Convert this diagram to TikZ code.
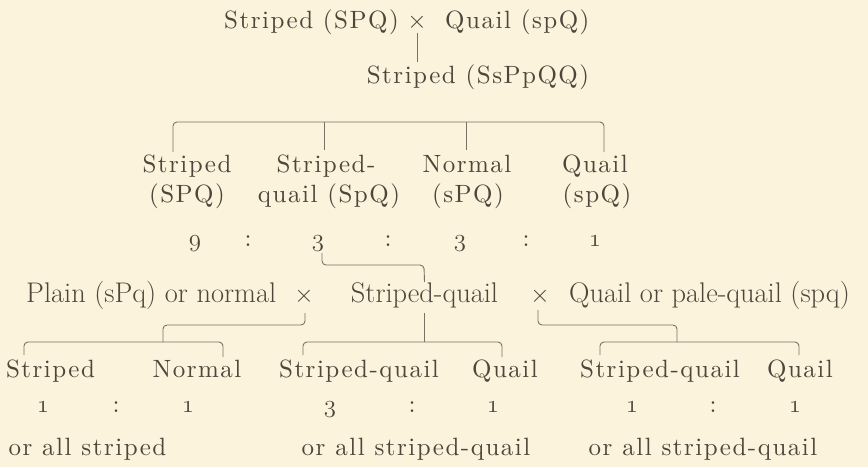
\documentclass[tikz,border=0pt]{standalone}
\usepackage{fontspec}
\setmainfont{lmroman10-regular.otf}
\newfontfamily\tallfont{lmroman17-regular.otf}
\definecolor{bg}{HTML}{FBF3DB}
\definecolor{ink}{HTML}{4E463B}
\definecolor{rulec}{HTML}{7A7164}
\newcommand\osn[1]{{\usefont{OML}{cmm}{m}{it}#1}}
\begin{document}
\begin{tikzpicture}[x=1pt,y=-1pt,
  lbl/.style={text=ink,inner sep=0pt,anchor=base,font=\fontsize{25}{30}\selectfont\addfontfeatures{LetterSpace=6}},
  wide/.style={text=ink,inner sep=0pt,anchor=base,font=\tallfont\fontsize{28.4}{32}\selectfont},
  link/.style={draw=rulec,line width=0.9pt,rounded corners=4pt}]
\fill[bg] (0,0) rectangle (868,467);
\useasboundingbox (0,0) rectangle (868,467);
% row 1
\node[lbl,anchor=base east] (p1) at (399,28) {Striped (SPQ)};
\node[lbl] (x1) at (417,28) {$\times$};
\node[lbl,anchor=base west] (p2) at (445,28) {Quail (spQ)};
\node[lbl] (f1) at (478,83) {Striped (SsPpQQ)};
\draw[link] ([yshift=-3pt]x1.south) -- ([yshift=2pt]x1.south |- f1.north);
% bracket 1
\coordinate (b1l) at (173,152);
\coordinate (b1r) at (604,152);
\draw[link] (b1l) -- (173,122) -- (604,122) -- (b1r);
\draw[link] (324,122) -- (324,150);
\draw[link] (466,122) -- (466,150);
% row 3
\node[lbl] (a1) at (187,172) {Striped};
\node[lbl] (a1b) at (187,202) {(SPQ)};
\node[lbl] (a2) at (326,172) {Striped-};
\node[lbl] (a2b) at (329,202) {quail (SpQ)};
\node[lbl] (a3) at (467,172) {Normal};
\node[lbl] (a3b) at (468,202) {(sPQ)};
\node[lbl] (a4) at (595,172) {Quail};
\node[lbl] (a4b) at (597,202) {(spQ)};
% row 4
\node[lbl] (r1) at (195,246) {\osn{9}};
\node[lbl] (r2) at (248,246) {:};
\node[lbl] (r3) at (318,246) {\osn{3}};
\node[lbl] (r4) at (388,246) {:};
\node[lbl] (r5) at (460,246) {\osn{3}};
\node[lbl] (r6) at (526,246) {:};
\node[lbl] (r7) at (595,246) {\osn{1}};
% row 5
\node[wide,anchor=base west] (c1) at (26,302) {Plain (sPq) or normal};
\node[wide] (x2) at (304,302) {$\times$};
\node[wide] (c2) at (424.5,302) {Striped-quail};
\node[wide] (x3) at (540,302) {$\times$};
\node[wide,anchor=base west] (c3) at (569,302) {Quail or pale-quail (spq)};
\draw[link] (322,253) -- (322,265) -- (424,265) -- (c2.north);
% lower connectors
\draw[link] (305,313) -- (305,325) -- (163,325) -- (163,342);
\draw[link] (24,355) -- (24,342) -- (223,342) -- (223,357);
\draw[link] (424,313) -- (424,342);
\draw[link] (303,355) -- (303,342) -- (502,342) -- (502,357);
\draw[link] (538,310) -- (538,325) -- (677,325) -- (677,342);
\draw[link] (600,355) -- (600,342) -- (799,342) -- (799,355);
% row 6
\node[lbl] (d1) at (50.5,377) {Striped};
\node[lbl] (d2) at (197,377) {Normal};
\node[lbl] (d3) at (359,377) {Striped-quail};
\node[lbl] (d4) at (505,377) {Quail};
\node[lbl] (d5) at (660,377) {Striped-quail};
\node[lbl] (d6) at (800,377) {Quail};
% row 7
\node[lbl] (e1) at (43,412) {\osn{1}};
\node[lbl] (e2) at (116,412) {:};
\node[lbl] (e3) at (188,412) {\osn{1}};
\node[lbl] (e4) at (330,412) {\osn{3}};
\node[lbl] (e5) at (412,412) {:};
\node[lbl] (e6) at (493,412) {\osn{1}};
\node[lbl] (e7) at (632,412) {\osn{1}};
\node[lbl] (e8) at (713,412) {:};
\node[lbl] (e9) at (795,412) {\osn{1}};
% row 8
\node[lbl] (g1) at (87.5,455) {or all striped};
\node[lbl] (g2) at (416,455) {or all striped-quail};
\node[lbl] (g3) at (703,455) {or all striped-quail};
\end{tikzpicture}
\end{document}
